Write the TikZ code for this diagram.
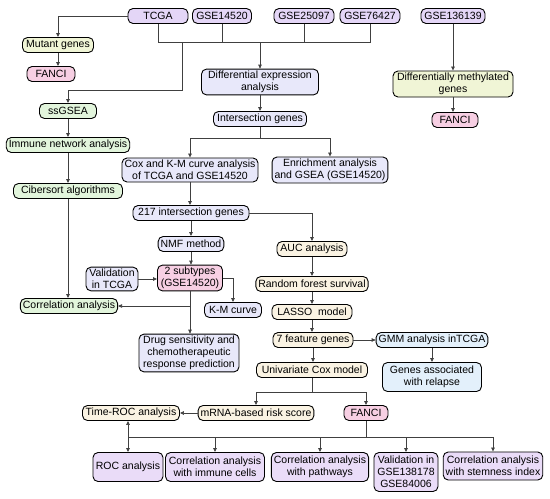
\documentclass[tikz,border=0pt]{standalone}
\usepackage{fontspec}
\setmainfont{Liberation Sans}
\usetikzlibrary{arrows.meta,positioning,calc}

\definecolor{srcfill}{HTML}{E4D6F7}
\definecolor{lavfill}{HTML}{E8E8FA}
\definecolor{pinkfill}{HTML}{F7CFE3}
\definecolor{greenfill}{HTML}{E2F5DC}
\definecolor{olivefill}{HTML}{F0F5D6}
\definecolor{creamfill}{HTML}{FAF3E3}
\definecolor{bluefill}{HTML}{E3F0FB}
\definecolor{purplefill}{HTML}{EADCF8}
\definecolor{linkcol}{HTML}{404040}

\tikzset{
  box/.style={draw=black, line width=0.9pt, rounded corners=5pt, align=center,
    inner xsep=2.5pt, inner ysep=2pt, minimum height=15pt,
    font=\fontsize{10.5}{12}\selectfont},
  srcbox/.style={box, fill=srcfill},
  lavbox/.style={box, fill=lavfill},
  pinkbox/.style={box, fill=pinkfill},
  greenbox/.style={box, fill=greenfill},
  olivebox/.style={box, fill=olivefill},
  creambox/.style={box, fill=creamfill},
  bluebox/.style={box, fill=bluefill},
  purplebox/.style={box, fill=purplefill},
  link/.style={draw=linkcol, line width=0.7pt},
  arr/.style={link, -{Triangle[length=4pt,width=3.5pt]}},
  arrboth/.style={link, {Triangle[length=4pt,width=3.5pt]}-{Triangle[length=4pt,width=3.5pt]}},
}

\begin{document}
\begin{tikzpicture}[x=1pt,y=-1pt]
  \useasboundingbox (0,0) rectangle (550,499);

  \node[srcbox, minimum width=60pt] (tcga) at (158,16) {TCGA};
  \node[srcbox, minimum width=59pt] (gse14) at (222,16) {GSE14520};
  \node[srcbox, minimum width=60pt] (gse25) at (304,16) {GSE25097};
  \node[srcbox, minimum width=60pt] (gse76) at (370,16) {GSE76427};
  \node[srcbox, minimum width=64pt] (gse136) at (453,16) {GSE136139};

  \node[olivebox, minimum width=71pt] (mutant) at (58,45) {Mutant genes};
  \node[pinkbox, minimum width=48pt] (fanciA) at (51,74) {FANCI};

  \node[greenbox, minimum width=57pt] (ssgsea) at (68,111) {ssGSEA};
  \node[greenbox, minimum width=122pt] (immune) at (68,145) {Immune network analysis};
  \node[greenbox, minimum width=109pt] (cibersort) at (68,191) {Cibersort algorithms};
  \node[greenbox, minimum width=95pt] (corr) at (69,306) {Correlation analysis};

  \node[lavbox, minimum width=117pt, minimum height=25pt] (diffexp) at (260,82) {Differential expression\\analysis};
  \node[lavbox, minimum width=93pt] (inter) at (260,119) {Intersection genes};
  \node[lavbox, minimum width=136pt, minimum height=24pt] (cox) at (190,170) {Cox and K-M curve analysis\\of TCGA and GSE14520};
  \node[lavbox, minimum width=115pt, minimum height=26pt] (enrich) at (330,170) {Enrichment analysis\\and GSEA (GSE14520)};
  \node[lavbox, minimum width=116pt] (g217) at (191,213) {217 intersection genes};
  \node[lavbox, minimum width=65pt] (nmf) at (191,244) {NMF method};
  \node[pinkbox, minimum width=65pt, minimum height=23pt] (subtypes) at (190,278) {2 subtypes\\(GSE14520)};
  \node[lavbox, minimum width=52pt, minimum height=23pt] (valtcga) at (112,279) {Validation\\in TCGA};
  \node[lavbox, minimum width=57pt] (km) at (233,310) {K-M curve};
  \node[lavbox, minimum width=100pt, minimum height=37pt] (drug) at (189,353) {Drug sensitivity and\\chemotherapeutic\\response prediction};

  \node[creambox, minimum width=70pt] (auc) at (312,249) {AUC analysis};
  \node[creambox, minimum width=111pt] (forest) at (312,284) {Random forest survival};
  \node[creambox, minimum width=80pt] (lasso) at (312,312) {LASSO\ \ model};
  \node[creambox, minimum width=80pt] (feat) at (313,340) {7 feature genes};
  \node[bluebox, minimum width=109pt] (gmm) at (432,340) {GMM analysis inTCGA};
  \node[bluebox, minimum width=99pt, minimum height=29pt] (relapse) at (432,377) {Genes associated\\with relapse};
  \node[creambox, minimum width=111pt] (unicox) at (312,370) {Univariate Cox model};
  \node[creambox, minimum width=114pt] (mrna) at (256,413) {mRNA-based risk score};
  \node[pinkbox, minimum width=44pt] (fanciB) at (366,413) {FANCI};
  \node[creambox, minimum width=97pt] (timeroc) at (131,413) {Time-ROC analysis};

  \node[purplebox, minimum width=70pt, minimum height=29pt] (roc) at (128,467) {ROC analysis};
  \node[purplebox, minimum width=99pt, minimum height=29pt] (immcells) at (215,467) {Correlation analysis\\with immune cells};
  \node[purplebox, minimum width=96pt, minimum height=29pt] (pathways) at (320,467) {Correlation analysis\\with pathways};
  \node[purplebox, minimum width=64pt, minimum height=39pt] (valgse) at (406,472) {Validation in\\GSE138178\\GSE84006};
  \node[purplebox, minimum width=98pt, minimum height=28pt] (stem) at (493,466) {Correlation analysis\\with stemness index};

  \node[olivebox, minimum width=120pt, minimum height=26pt] (methyl) at (453,84) {Differentially methylated\\genes};
  \node[pinkbox, minimum width=46pt] (fanciC) at (455,120) {FANCI};

  \coordinate (bus) at (0,42);
  \coordinate (ssb) at (182,90);
  \coordinate (isplit) at (0,138);
  \coordinate (usplit) at (0,392);
  \coordinate (bbus) at (0,437);

  \draw[link] (tcga.south) -- (tcga.south |- bus) -- (gse76.south |- bus) -- (gse76.south);
  \draw[link] (gse14.south) -- (gse14.south |- bus);
  \draw[link] (gse25.south) -- (gse25.south |- bus);
  \draw[arr] (diffexp.north |- bus) -- (diffexp.north);
  \draw[arr] (tcga.west) -| (mutant.north);
  \draw[arr] (mutant.south) -- (mutant.south |- fanciA.north);
  \draw[arr] (ssb |- bus) -- (ssb) -| (ssgsea.north);
  \draw[arr] (ssgsea) -- (immune);
  \draw[arr] (immune) -- (cibersort);
  \draw[arr] (cibersort) -- (corr.north -| cibersort);

  \draw[arr] (diffexp) -- (inter);
  \draw[link] (inter.south) -- (inter.south |- isplit);
  \draw[arr] (inter.south |- isplit) -| (cox.north);
  \draw[arr] (inter.south |- isplit) -| (enrich.north);
  \draw[arr] (cox.south) -- (cox.south |- g217.north);
  \draw[arr] (g217.east) -| (auc.north);
  \draw[arr] (g217.south) -- (g217.south |- nmf.north);
  \draw[arr] (nmf.south) -- (nmf.south |- subtypes.north);
  \draw[arr] (valtcga.east) -- (valtcga.east -| subtypes.west);
  \draw[arr] (subtypes.east) -| (km.north);
  \draw[arr] (subtypes.south) -- (subtypes.south |- drug.north);
  \draw[arr] (subtypes.south |- corr.east) -- (corr.east);

  \draw[arr] (auc) -- (forest);
  \draw[arr] (forest) -- (lasso);
  \draw[arr] (lasso) -- (lasso |- feat.north);
  \draw[arr] (feat) -- (gmm);
  \draw[arr] (gmm) -- (relapse);
  \draw[arr] (feat.south) -- (feat.south |- unicox.north);
  \draw[link] (unicox.south) -- (unicox.south |- usplit);
  \draw[arr] (unicox.south |- usplit) -| (mrna.north);
  \draw[arr] (unicox.south |- usplit) -| (fanciB.north);
  \draw[arr] (mrna) -- (timeroc);

  \draw[link] (fanciB.south) -- (fanciB.south |- bbus);
  \draw[link] (roc.north |- bbus) -- (stem.north |- bbus);
  \draw[arrboth] (roc.north |- timeroc.south) -- (roc.north);
  \draw[arr] (immcells.north |- bbus) -- (immcells.north);
  \draw[arr] (pathways.north |- bbus) -- (pathways.north);
  \draw[arr] (valgse.north |- bbus) -- (valgse.north);
  \draw[arr] (stem.north |- bbus) -- (stem.north);

  \draw[arr] (gse136) -- (methyl);
  \draw[arr] (methyl.south) -- (methyl.south |- fanciC.north);
\end{tikzpicture}
\end{document}
